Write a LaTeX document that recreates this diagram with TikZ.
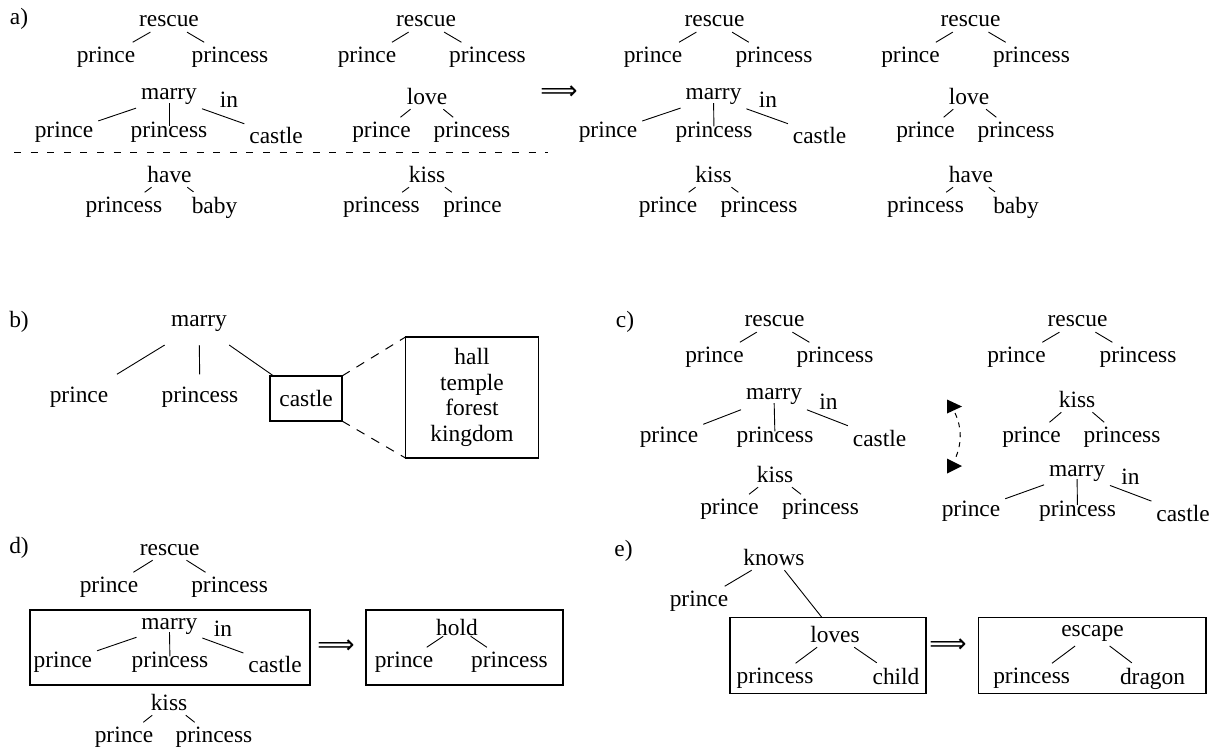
\documentclass[tikz,border=0pt]{standalone}
\usepackage{fontspec}
\setmainfont{Liberation Serif}
\newfontfamily\arrowfont{DejaVu Sans}
\begin{document}
\tikzset{
  wd/.style={inner sep=2.5pt, outer sep=0pt},
  wdb/.style={inner sep=6.5pt, outer sep=0pt},
  tag/.style={inner sep=0pt, outer sep=0pt},
  edge/.style={line width=0.45pt},
  midedge/.style={edge, shorten <=-3.5pt, shorten >=-4.5pt},
  frame/.style={draw, line width=0.6pt, inner sep=0pt, outer sep=0pt},
  sepline/.style={line width=0.5pt, dash pattern=on 3.5pt off 4.8pt},
  zoomline/.style={line width=0.5pt, dash pattern=on 4.5pt off 4pt},
  swapline/.style={line width=0.5pt, dash pattern=on 2.5pt off 2.5pt},
  implies/.style={inner sep=0pt, font=\arrowfont\fontsize{13}{14}\selectfont},
}
\begin{tikzpicture}[x=0.5pt, y=-0.5pt, font=\fontsize{11.7}{14}\selectfont]
\useasboundingbox (0,0) rectangle (1220,751);

% ---------------- a) ----------------
\node[tag] (la) at (19,19) {a)};
% first story
\node[wd] (a1r)  at (169,21.5)   {rescue};
\node[wd] (a1rp) at (106,57.5)   {prince};
\node[wd] (a1rq) at (230,57.5)   {princess};
\node[wd] (a1m)  at (169,97)     {marry};
\node[tag] (a1in) at (229,100)   {in};
\node[wd] (a1mp) at (64,132.5)   {prince};
\node[wd] (a1mq) at (169,132.5)  {princess};
\node[wd] (a1mc) at (276,135)    {castle};
\node[wd] (a1h)  at (169.5,174)  {have};
\node[wd] (a1hq) at (124,207.5)  {princess};
\node[wd] (a1hb) at (214.5,207.5){baby};
\draw[edge] (a1r) -- (a1rp);
\draw[edge] (a1r) -- (a1rq);
\draw[edge] (a1m) -- (a1mp);
\draw[midedge] (a1m) -- (a1mq);
\draw[edge] (a1m) -- (a1mc);
\draw[edge] (a1h) -- (a1hq);
\draw[edge] (a1h) -- (a1hb);
% second story
\node[wd] (a2r)  at (426,21.5)   {rescue};
\node[wd] (a2rp) at (367,57.5)   {prince};
\node[wd] (a2rq) at (487.5,57.5) {princess};
\node[wd] (a2l)  at (427,96)     {love};
\node[wd] (a2lp) at (381.5,132.5){prince};
\node[wd] (a2lq) at (472,132.5)  {princess};
\node[wd] (a2k)  at (427,174)    {kiss};
\node[wd] (a2kq) at (381.5,207.5){princess};
\node[wd] (a2kp) at (472.5,207.5){prince};
\draw[edge] (a2r) -- (a2rp);
\draw[edge] (a2r) -- (a2rq);
\draw[edge] (a2l) -- (a2lp);
\draw[edge] (a2l) -- (a2lq);
\draw[edge] (a2k) -- (a2kq);
\draw[edge] (a2k) -- (a2kp);
% separator
\coordinate (sepL) at (14,152);
\coordinate (sepR) at (548,152);
\draw[sepline] (sepL) -- (sepR);
\node[implies] (aimp) at (559,93) {⟹};
% recombined stories
\node[wd] (a3r)  at (714.5,21.5) {rescue};
\node[wd] (a3rp) at (653,57.5)   {prince};
\node[wd] (a3rq) at (774,57.5)   {princess};
\node[wd] (a3m)  at (713.5,97)   {marry};
\node[tag] (a3in) at (768,100)   {in};
\node[wd] (a3mp) at (608,132.5)  {prince};
\node[wd] (a3mq) at (714,132.5)  {princess};
\node[wd] (a3mc) at (819.5,135)  {castle};
\node[wd] (a3k)  at (713.5,174)  {kiss};
\node[wd] (a3kp) at (668,207.5)  {prince};
\node[wd] (a3kq) at (759,207.5)  {princess};
\draw[edge] (a3r) -- (a3rp);
\draw[edge] (a3r) -- (a3rq);
\draw[edge] (a3m) -- (a3mp);
\draw[midedge] (a3m) -- (a3mq);
\draw[edge] (a3m) -- (a3mc);
\draw[edge] (a3k) -- (a3kp);
\draw[edge] (a3k) -- (a3kq);
\node[wd] (a4r)  at (970.5,21.5) {rescue};
\node[wd] (a4rp) at (910.5,57.5) {prince};
\node[wd] (a4rq) at (1031.5,57.5){princess};
\node[wd] (a4l)  at (969,96)     {love};
\node[wd] (a4lp) at (925.5,132.5){prince};
\node[wd] (a4lq) at (1016,132.5) {princess};
\node[wd] (a4h)  at (971,174)    {have};
\node[wd] (a4hq) at (925.5,207.5){princess};
\node[wd] (a4hb) at (1016,207.5) {baby};
\draw[edge] (a4r) -- (a4rp);
\draw[edge] (a4r) -- (a4rq);
\draw[edge] (a4l) -- (a4lp);
\draw[edge] (a4l) -- (a4lq);
\draw[edge] (a4h) -- (a4hq);
\draw[edge] (a4h) -- (a4hb);

% ---------------- b) ----------------
\node[tag] (lb) at (19,321.5) {b)};
\node[wdb] (bm) at (199,324)   {marry};
\node[wdb] (bp) at (79,397.5)  {prince};
\node[wdb] (bq) at (200,397.5) {princess};
\node[frame, minimum width=36pt, minimum height=22.5pt] (bc) at (306,398.5) {castle};
\node[frame, minimum width=66.5pt, minimum height=60.5pt, align=center,
      font=\fontsize{11.7}{12.75}\selectfont] (bset) at (472,397.5)
      {hall\\temple\\forest\\kingdom};
\draw[edge] (bm) -- (bp);
\draw[edge] (bm) -- (bq);
\draw[edge] (bm) -- (bc);
\draw[zoomline] (bc.north east) -- (bset.north west);
\draw[zoomline] (bc.south east) -- (bset.south west);

% ---------------- c) ----------------
\node[tag] (lc) at (625,322) {c)};
\node[wd] (c1r)  at (774.5,321.5) {rescue};
\node[wd] (c1rp) at (714.5,357.5) {prince};
\node[wd] (c1rq) at (835,357.5)   {princess};
\node[wd] (c1m)  at (774,397)     {marry};
\node[tag] (c1in) at (828.5,402)  {in};
\node[wd] (c1mp) at (669,437.5)   {prince};
\node[wd] (c1mq) at (775,437.5)   {princess};
\node[wd] (c1mc) at (879.5,438)   {castle};
\node[wd] (c1k)  at (775,474)     {kiss};
\node[wd] (c1kp) at (729.5,509.5) {prince};
\node[wd] (c1kq) at (820.5,509.5) {princess};
\draw[edge] (c1r) -- (c1rp);
\draw[edge] (c1r) -- (c1rq);
\draw[edge] (c1m) -- (c1mp);
\draw[midedge] (c1m) -- (c1mq);
\draw[edge] (c1m) -- (c1mc);
\draw[edge] (c1k) -- (c1kp);
\draw[edge] (c1k) -- (c1kq);
\node[wd] (c2r)  at (1077.5,321.5){rescue};
\node[wd] (c2rp) at (1016.5,357.5){prince};
\node[wd] (c2rq) at (1138,357.5)  {princess};
\node[wd] (c2k)  at (1077,399)    {kiss};
\node[wd] (c2kp) at (1031.5,437.5){prince};
\node[wd] (c2kq) at (1122,437.5)  {princess};
\node[wd] (c2m)  at (1077,473)    {marry};
\node[tag] (c2in) at (1130.5,477) {in};
\node[wd] (c2mp) at (971,511)     {prince};
\node[wd] (c2mq) at (1077.5,511)  {princess};
\node[wd] (c2mc) at (1183,513)    {castle};
\draw[edge] (c2r) -- (c2rp);
\draw[edge] (c2r) -- (c2rq);
\draw[edge] (c2k) -- (c2kp);
\draw[edge] (c2k) -- (c2kq);
\draw[edge] (c2m) -- (c2mp);
\draw[midedge] (c2m) -- (c2mq);
\draw[edge] (c2m) -- (c2mc);
% swap marker between the two orders
\coordinate (cUp) at (955,413);
\coordinate (cDn) at (955,459);
\draw[swapline] (cUp) .. controls (962,428) and (962,444) .. (cDn);
\fill (947,399.5) -- (962,406.5) -- (947,413.5) -- cycle;
\fill (947,458.5) -- (962,466) -- (947,473.5) -- cycle;

% ---------------- d) ----------------
\node[tag] (ld) at (19,548) {d)};
\node[wd] (dr)  at (169.7,549.6) {rescue};
\node[wd] (drp) at (109,587.5)   {prince};
\node[wd] (drq) at (229.6,587.5) {princess};
\draw[edge] (dr) -- (drp);
\draw[edge] (dr) -- (drq);
\node[frame, minimum width=140pt, minimum height=37.5pt] (dboxA) at (170,647.5) {};
\node[wd] (dm)  at (169.4,626)   {marry};
\node[tag] (din) at (223,629)    {in};
\node[wd] (dmp) at (62.8,662.5)  {prince};
\node[wd] (dmq) at (170,662.5)   {princess};
\node[wd] (dmc) at (275,664.5)   {castle};
\draw[edge] (dm) -- (dmp);
\draw[midedge] (dm) -- (dmq);
\draw[edge] (dm) -- (dmc);
\node[implies] (dimp) at (336,646.7) {⟹};
\node[frame, minimum width=98.5pt, minimum height=37.5pt] (dboxB) at (464.5,647.5) {};
\node[inner sep=0.5pt, outer sep=0pt] (dh) at (457,627) {hold};
\node[wd] (dhp) at (404,662.5)   {prince};
\node[wd] (dhq) at (509.4,662.5) {princess};
\draw[edge] (dh) -- (dhp);
\draw[edge] (dh) -- (dhq);
\node[wd] (dk)  at (169,702)     {kiss};
\node[wd] (dkp) at (124,737.5)   {prince};
\node[wd] (dkq) at (214,737.5)   {princess};
\draw[edge] (dk) -- (dkp);
\draw[edge] (dk) -- (dkq);

% ---------------- e) ----------------
\node[tag] (le) at (623.5,550.5) {e)};
\node[wd] (eKn) at (774,557)     {knows};
\node[wd] (eKp) at (699,601.5)   {prince};
\node[frame, minimum width=98pt, minimum height=38pt] (eBoxA) at (828,655.3) {};
\node[wd] (eLv) at (835,634)     {loves};
\node[wd] (eLq) at (775,678.5)   {princess};
\node[wd] (eLc) at (896,676)     {child};
\draw[edge] (eKn) -- (eKp);
\draw[edge] (eKn) -- (intersection of eKn--eLv and eBoxA.north west--eBoxA.north east);
\draw[edge] (eLv) -- (eLq);
\draw[edge] (eLv) -- (eLc);
\node[implies] (eimp) at (948,646) {⟹};
\node[frame, minimum width=113.6pt, minimum height=38pt] (eBoxB) at (1092.4,655.3) {};
\node[wd] (eEs) at (1092.5,633)  {escape};
\node[wd] (eEq) at (1031.6,678.5){princess};
\node[wd] (eEd) at (1152.5,678.5){dragon};
\draw[edge] (eEs) -- (eEq);
\draw[edge] (eEs) -- (eEd);
\end{tikzpicture}
\end{document}
